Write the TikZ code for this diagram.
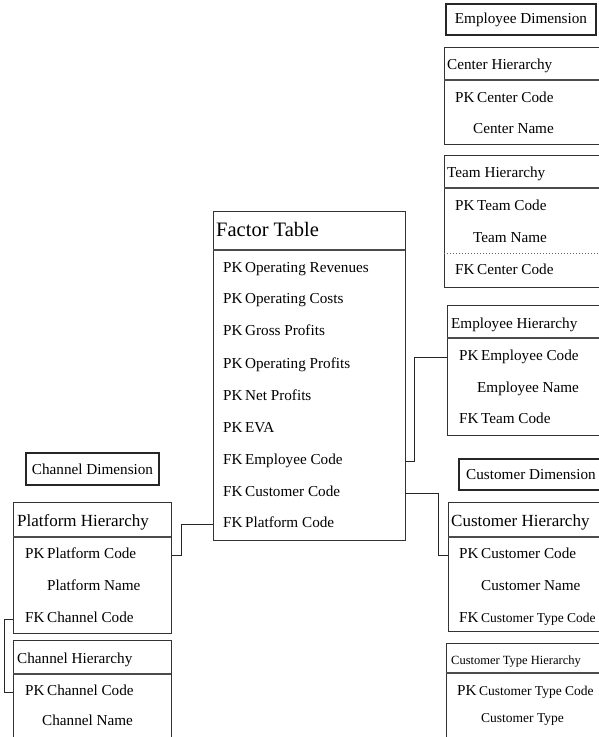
\documentclass[tikz,border=0pt]{standalone}
\usepackage{fontspec}
\setmainfont{Liberation Serif}
\newcommand\rf{\fontsize{15.2}{18}\selectfont}
\newcommand\rfs{\fontsize{13.5}{16}\selectfont}
\newcommand\rfh{\fontsize{17}{20}\selectfont}
\newcommand\rft{\fontsize{12.5}{14}\selectfont}
\newcommand\rfb{\fontsize{20.5}{24}\selectfont}
\newcommand\pk{PK\hspace{2.5pt}}
\newcommand\fk{FK\hspace{2.5pt}}
\begin{document}
\begin{tikzpicture}[x=1pt,y=-1pt,
  box/.style={draw=black!80, line width=0.9pt, inner sep=0pt, outer sep=0pt, anchor=north west},
  dimbox/.style={draw=black!85, line width=1.7pt, inner sep=0pt, outer sep=0pt, font=\rf},
  sep/.style={draw=black!70, line width=1.2pt},
  dotsep/.style={draw=black!60, line width=1pt, dotted},
  row/.style={anchor=base west, inner sep=0pt, font=\rf},
  conn/.style={draw=black!85, line width=0.8pt}]
\useasboundingbox (0,0) rectangle (598,737);

% ---------- Employee dimension ----------
\node[dimbox, minimum width=150pt, minimum height=31pt] (empdim) at (521,19.5) {Employee Dimension};

% Center Hierarchy
\node[box, minimum width=165pt, minimum height=97pt] (ch) at (444,47) {};
\draw[sep] (ch.west |- 0,80) -- (ch.east |- 0,80);
\node[row] (chH) at (447,69) {Center Hierarchy};
\node[row] (chPK) at (455,102) {\pk Center Code};
\node[row] (chN) at (473,133) {Center Name};

% Team Hierarchy
\node[box, minimum width=165pt, minimum height=132pt] (th) at (444,155) {};
\draw[sep] (th.west |- 0,188) -- (th.east |- 0,188);
\draw[dotsep] (th.west |- 0,253) -- (th.east |- 0,253);
\node[row] (thH) at (447,177) {Team Hierarchy};
\node[row] (thPK) at (455,210) {\pk Team Code};
\node[row] (thN) at (473,242) {Team Name};
\node[row] (thFK) at (455,274) {\fk Center Code};

% Employee Hierarchy
\node[box, minimum width=160pt, minimum height=130pt] (eh) at (447,305) {};
\draw[sep] (eh.west |- 0,338) -- (eh.east |- 0,338);
\node[row] (ehH) at (451,328) {Employee Hierarchy};
\node[row] (ehPK) at (459,360) {\pk Employee Code};
\node[row] (ehN) at (477,392) {Employee Name};
\node[row] (ehFK) at (459,423) {\fk Team Code};

% ---------- Factor table ----------
\node[box, minimum width=192pt, minimum height=329pt] (ft) at (213,211) {};
\draw[sep] (ft.west |- 0,250) -- (ft.east |- 0,250);
\node[row, font=\rfb] (ftH) at (216,236) {Factor Table};
\node[row] (f1) at (223,272) {\pk Operating Revenues};
\node[row] (f2) at (223,303) {\pk Operating Costs};
\node[row] (f3) at (223,335) {\pk Gross Profits};
\node[row] (f4) at (223,368) {\pk Operating Profits};
\node[row] (f5) at (223,400) {\pk Net Profits};
\node[row] (f6) at (223,432) {\pk EVA};
\node[row] (fEmp) at (223,464) {\fk Employee Code};
\node[row] (fCus) at (223,496) {\fk Customer Code};
\node[row] (fPla) at (223,527) {\fk Platform Code};

% ---------- Customer dimension ----------
\node[dimbox, anchor=north west, minimum height=31pt, minimum width=145pt] (cusdim) at (459,459) {};
\node[row] (cusdimT) at (466,479.5) {Customer Dimension};

% Customer Hierarchy
\node[box, minimum width=160pt, minimum height=129pt] (cu) at (448,502) {};
\draw[sep] (cu.west |- 0,537) -- (cu.east |- 0,537);
\node[row, font=\rfh] (cuH) at (451,526) {Customer Hierarchy};
\node[row] (cuPK) at (459,558) {\pk Customer Code};
\node[row] (cuN) at (481,590) {Customer Name};
\node[row] (cuFK) at (459,622) {\fk{\rfs Customer Type Code}};

% Customer Type Hierarchy
\node[box, minimum width=160pt, minimum height=110pt] (ct) at (446,643) {};
\draw[sep] (ct.west |- 0,673) -- (ct.east |- 0,673);
\node[row, font=\rft] (ctH) at (451,664) {Customer Type Hierarchy};
\node[row] (ctPK) at (457,695) {\pk{\rfs Customer Type Code}};
\node[row, font=\rfs] (ctN) at (481,722) {Customer Type};

% ---------- Channel dimension ----------
\node[dimbox, minimum width=133pt, minimum height=32pt] (chdim) at (92.5,469) {Channel Dimension};

% Platform Hierarchy
\node[box, minimum width=158pt, minimum height=131pt] (pl) at (13,502) {};
\draw[sep] (pl.west |- 0,537) -- (pl.east |- 0,537);
\node[row, font=\rfh] (plH) at (17,526) {Platform Hierarchy};
\node[row] (plPK) at (25,558) {\pk Platform Code};
\node[row] (plN) at (47,590) {Platform Name};
\node[row] (plFK) at (25,622) {\fk Channel Code};

% Channel Hierarchy
\node[box, minimum width=158pt, minimum height=110pt] (cn) at (13,640) {};
\draw[sep] (cn.west |- 0,674) -- (cn.east |- 0,674);
\node[row] (cnH) at (17,663) {Channel Hierarchy};
\node[row] (cnPK) at (25,695) {\pk Channel Code};
\node[row] (cnN) at (42,725) {Channel Name};

% ---------- connectors ----------
\draw[conn] (ft.east |- fEmp.mid) -- ++(9,0) |- (eh.west |- ehPK.mid);
\draw[conn] (ft.east |- fCus.mid) -- ++(33,0) |- (cu.west |- cuPK.mid);
\draw[conn] (ft.west |- fPla.mid) -- ++(-32,0) |- (pl.east |- plPK.mid);
\draw[conn] (pl.west |- plFK.mid) -- ++(-9,0) |- (cn.west |- cnPK.mid);
\end{tikzpicture}
\end{document}
